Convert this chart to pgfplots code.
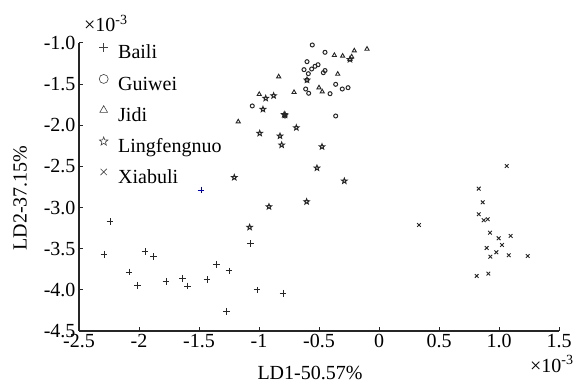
\documentclass[border=0pt]{standalone}
\usepackage{pgfplots}
\pgfplotsset{compat=1.18}
\usepackage{fontspec}
\setmainfont{Liberation Serif}
\usetikzlibrary{plotmarks}
\pgfdeclareplotmark{ostar}{%
  \pgfpathmoveto{\pgfpointpolar{90}{\pgfplotmarksize}}%
  \pgfpathlineto{\pgfpointpolar{126}{0.42\pgfplotmarksize}}%
  \pgfpathlineto{\pgfpointpolar{162}{\pgfplotmarksize}}%
  \pgfpathlineto{\pgfpointpolar{198}{0.42\pgfplotmarksize}}%
  \pgfpathlineto{\pgfpointpolar{234}{\pgfplotmarksize}}%
  \pgfpathlineto{\pgfpointpolar{270}{0.42\pgfplotmarksize}}%
  \pgfpathlineto{\pgfpointpolar{306}{\pgfplotmarksize}}%
  \pgfpathlineto{\pgfpointpolar{342}{0.42\pgfplotmarksize}}%
  \pgfpathlineto{\pgfpointpolar{18}{\pgfplotmarksize}}%
  \pgfpathlineto{\pgfpointpolar{54}{0.42\pgfplotmarksize}}%
  \pgfpathclose
  \pgfusepathqstroke
}
\begin{document}
\begin{tikzpicture}[font=\fontsize{20bp}{24bp}\selectfont]
\path[use as bounding box] (0,0) rectangle (579bp,384bp);
\begin{axis}[
  at={(79bp,53bp)}, anchor=south west,
  scale only axis, width=480bp, height=288bp,
  xmin=-2.5, xmax=1.5, ymin=-4.5, ymax=-1.0,
  clip=false,
  axis x line*=bottom, axis y line*=left,
  axis line style={-, line width=1.1bp, black!85},
  xtick={-2.5,-2,-1.5,-1,-0.5,0,0.5,1,1.5},
  xticklabels={-2.5,-2,-1.5,-1,-0.5,0,0.5,1.0,1.5},
  ytick={-4.5,-4,-3.5,-3,-2.5,-2,-1.5,-1},
  yticklabels={-4.5,-4.0,-3.5,-3.0,-2.5,-2.0,-1.5,-1.0},
  tick align=inside, major tick length=4bp,
  tick style={line width=1bp, black!85},
  tick label style={font=\fontsize{20bp}{24bp}\selectfont},
  legend cell align=left,
  legend style={draw=none, fill=none, at={(axis cs:-2.5,-1.0)}, anchor=north west,
    xshift=17bp, inner sep=0pt, column sep=0bp, row sep=13bp,
    nodes={inner sep=1bp, text height=14bp},
    font=\fontsize{20bp}{24bp}\selectfont},
  legend image code/.code={\path (0bp,0bp) (20bp,0bp);
    \draw[#1, mark size=4.5bp, line width=0.6bp, black!75] plot coordinates {(7bp,5bp)};},
]
\addplot[only marks, mark=+, mark size=3.3bp, line width=0.9bp, black!85] coordinates {
(-2.292,-3.567) (-2.242,-3.171) (-1.950,-3.536) (-1.878,-3.597) (-2.083,-3.783)
(-2.011,-3.944) (-1.775,-3.896) (-1.639,-3.859) (-1.594,-3.953) (-1.433,-3.871)
(-1.356,-3.689) (-1.250,-3.770) (-1.273,-4.260) (-1.073,-3.439) (-1.017,-4.001)
(-0.800,-4.041)};
\addlegendentry{Baili}
\addplot[only marks, mark=o, mark size=2.0bp, line width=1bp, black!85] coordinates {
(-0.556,-1.024) (-0.450,-1.113) (-0.600,-1.227) (-0.508,-1.264) (-0.533,-1.283)
(-0.561,-1.316) (-0.625,-1.324) (-0.589,-1.373) (-0.464,-1.361) (-0.600,-1.450)
(-0.361,-1.502) (-0.611,-1.559) (-0.586,-1.611) (-0.408,-1.616) (-0.306,-1.559)
(-0.258,-1.543) (-1.056,-1.765) (-0.361,-1.887) (-0.783,-1.887) (-0.45,-1.335)};
\addlegendentry{Guiwei}
\addplot[only marks, mark=triangle, mark size=2.4bp, line width=0.9bp, black!85] coordinates {
(-0.372,-1.149) (-0.303,-1.158) (-0.206,-1.094) (-0.100,-1.073) (-0.242,-1.198)
(-0.228,-1.166) (-0.344,-1.377) (-0.836,-1.409) (-0.708,-1.599) (-0.998,-1.623)
(-0.500,-1.543) (-0.473,-1.592) (-1.173,-1.956)};
\addlegendentry{Jidi}
\addplot[only marks, mark=ostar, mark size=2.8bp, line width=1bp, black!85] coordinates {
(-0.944,-1.672) (-0.878,-1.640) (-0.967,-1.806) (-0.994,-2.097) (-0.825,-2.130)
(-0.811,-2.239) (-0.689,-2.029) (-0.475,-2.260) (-0.517,-2.519) (-0.289,-2.677)
(-1.206,-2.634) (-0.603,-2.928) (-0.917,-2.989) (-1.078,-3.239) (-0.783,-1.875)
(-0.600,-1.450) (-0.242,-1.200) (-0.790,-1.870)};
\addlegendentry{Lingfengnuo}
\addplot[only marks, mark=x, mark size=2.6bp, line width=0.9bp, black!85] coordinates {
(1.064,-2.495) (0.831,-2.770) (0.864,-2.936) (0.831,-3.081) (0.872,-3.154)
(0.906,-3.142) (0.333,-3.211) (0.925,-3.305) (0.997,-3.373) (1.097,-3.345)
(1.025,-3.454) (0.897,-3.491) (0.978,-3.543) (0.928,-3.597) (1.081,-3.580)
(1.239,-3.588) (0.814,-3.831) (0.911,-3.803)};
\addlegendentry{Xiabuli}
\addplot[forget plot, only marks, mark=+, mark size=3.3bp, line width=0.9bp, blue!70!black] coordinates {
(-1.483,-2.786)};
\end{axis}
\node[anchor=base west, inner sep=0pt] at (84bp,352bp) {×10\textsuperscript{-3}};
\node[anchor=base west, inner sep=0pt] at (530bp,12bp) {×10\textsuperscript{-3}};
\node[anchor=base, inner sep=0pt] at (310bp,4.5bp) {LD1-50.57\%};
\node[anchor=base, rotate=90, inner sep=0pt] at (26.5bp,186bp) {LD2-37.15\%};
\end{tikzpicture}
\end{document}
